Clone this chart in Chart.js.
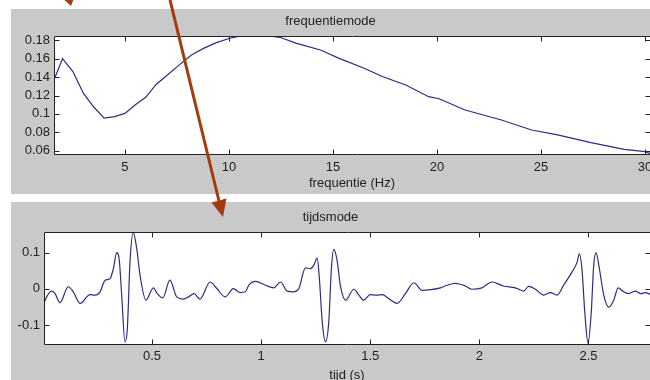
<!DOCTYPE html>
<html lang="nl">
<head>
<meta charset="UTF-8">
<title>frequentiemode / tijdsmode</title>
<style>
    body {
        margin: 0;
        background: #fff;
        overflow: hidden;
        width: 650px;
        height: 380px;
        position: relative;
    }
    .panel {
        position: absolute;
        left: 11px;
        width: 660px;
        background: #c9c9c9;
    }
    #topPanel { top: 9px; height: 185px; }
    #bottomPanel { top: 202px; height: 190px; }
    canvas { position: absolute; left: 0; top: 0; }
    #arrows { position: absolute; left: 0; top: 0; }
</style>
</head>
<body>
<div class="panel" id="topPanel"><canvas id="freqChart" width="660" height="185"></canvas></div>
<div class="panel" id="bottomPanel"><canvas id="timeChart" width="660" height="190"></canvas></div>
<svg id="arrows" width="650" height="380">
    <polygon points="60,-4 74,-2 71,6" fill="#a33b0e"/>
    <line x1="170" y1="0" x2="219" y2="201" stroke="#a33b0e" stroke-width="3"/>
    <polygon points="223,217 226.5,198.5 211.5,202.5" fill="#a33b0e"/>
</svg>

<script src="https://cdn.jsdelivr.net/npm/chart.js"></script>
<script>
    // frequentiemode (bovenste grafiek)
    const freqHz = [1.59, 2.0, 2.5, 3.0, 3.5, 4.0, 4.5, 5.0, 5.5, 6.0,
        6.5, 7.0, 7.6, 8.2, 8.8, 9.4, 10.0, 10.5, 11.0, 11.5,
        12.0, 12.45, 13.25, 14.4, 15.3, 16.5, 17.4, 18.5, 19.6, 20.1,
        21.35, 23.1, 24.55, 25.8, 27.4, 29.0, 30.0, 30.24];
    const freqMode = [0.137, 0.160, 0.146, 0.1225, 0.1075, 0.0955, 0.0970, 0.1005, 0.110, 0.118,
        0.132, 0.1415, 0.153, 0.164, 0.1715, 0.1775, 0.182, 0.1845, 0.1847, 0.1847,
        0.1845, 0.1833, 0.1767, 0.1695, 0.1604, 0.1496, 0.1404, 0.1314, 0.1187, 0.1165,
        0.1042, 0.0934, 0.0825, 0.0771, 0.0687, 0.0615, 0.0589, 0.0570];
    const freqTicks = [5, 10, 15, 20, 25, 30];
    const freqModeTicks = [0.06, 0.08, 0.1, 0.12, 0.14, 0.16, 0.18];

    // tijdsmode (onderste grafiek)
    const timeS = [0.005, 0.017, 0.04, 0.055, 0.078, 0.116, 0.139, 0.17, 0.216, 0.239,
        0.262, 0.285, 0.307, 0.323, 0.338, 0.35, 0.361, 0.376, 0.387, 0.399,
        0.414, 0.43, 0.445, 0.472, 0.506, 0.524, 0.549, 0.582, 0.613, 0.644,
        0.667, 0.692, 0.72, 0.766, 0.797, 0.835, 0.873, 0.903, 0.928, 0.943,
        0.974, 1.02, 1.058, 1.089, 1.119, 1.15, 1.173, 1.203, 1.226, 1.241,
        1.257, 1.267, 1.28, 1.295, 1.31, 1.322, 1.333, 1.348, 1.364, 1.387,
        1.425, 1.448, 1.47, 1.5, 1.53, 1.555, 1.585, 1.623, 1.661, 1.7,
        1.738, 1.776, 1.822, 1.852, 1.89, 1.936, 1.966, 2.012, 2.058, 2.11,
        2.165, 2.203, 2.226, 2.257, 2.295, 2.325, 2.356, 2.386, 2.425, 2.448,
        2.458, 2.47, 2.483, 2.498, 2.513, 2.524, 2.535, 2.55, 2.57, 2.593,
        2.616, 2.636, 2.661, 2.684, 2.715, 2.738, 2.76, 2.784];
    const timeMode = [-0.040, -0.022, -0.006, -0.012, -0.038, 0.006, -0.008, -0.040, -0.016, -0.017,
        -0.008, 0.024, 0.028, 0.056, 0.100, 0.079, -0.017, -0.146, -0.109, 0.074,
        0.155, 0.111, 0.038, -0.031, 0.003, -0.013, -0.025, 0.024, -0.022, -0.028,
        -0.022, -0.013, -0.028, 0.019, 0.001, -0.022, 0.001, -0.010, -0.008, 0.010,
        0.021, 0.010, 0.003, 0.019, -0.006, -0.008, 0.001, 0.058, 0.056, 0.065,
        0.085, 0.028, -0.091, -0.146, -0.091, 0.056, 0.109, 0.079, 0.006, -0.031,
        -0.001, -0.017, -0.031, -0.016, -0.017, -0.016, -0.027, -0.040, -0.013, 0.017,
        -0.004, -0.002, 0.003, 0.010, 0.015, 0.008, -0.001, 0.003, 0.019, 0.008,
        0.003, -0.006, 0.007, -0.001, -0.017, -0.010, -0.017, 0.010, 0.047, 0.074,
        0.097, 0.056, -0.063, -0.150, -0.063, 0.065, 0.100, 0.056, -0.017, -0.050,
        -0.031, 0.003, -0.008, -0.013, -0.006, -0.013, -0.010, -0.015];
    const timeTicks = [0.5, 1, 1.5, 2, 2.5];
    const timeModeTicks = [-0.1, 0, 0.1];

    Chart.defaults.font.family = "'Liberation Sans', Arial, sans-serif";
    Chart.defaults.font.size = 13;
    Chart.defaults.color = '#222';

    // witte assen met zwarte rand en tickjes naar binnen, zoals in MATLAB
    const matlabAxes = {
        id: 'matlabAxes',
        beforeDraw(chart) {
            const a = chart.chartArea;
            const ctx = chart.ctx;
            ctx.save();
            ctx.fillStyle = '#fff';
            ctx.fillRect(a.left, a.top, a.right - a.left, a.bottom - a.top);
            ctx.restore();
        },
        afterDraw(chart) {
            const a = chart.chartArea;
            const ctx = chart.ctx;
            const len = 5;
            const l = Math.round(a.left) + 0.5, r = Math.round(a.right) + 0.5;
            const t = Math.round(a.top) + 0.5, b = Math.round(a.bottom) + 0.5;
            ctx.save();
            ctx.strokeStyle = '#222';
            ctx.lineWidth = 1;
            ctx.beginPath();
            ctx.rect(l, t, r - l, b - t);
            chart.scales.x.ticks.forEach(tk => {
                const px = Math.round(chart.scales.x.getPixelForValue(tk.value)) + 0.5;
                ctx.moveTo(px, b); ctx.lineTo(px, b - len);
                ctx.moveTo(px, t); ctx.lineTo(px, t + len);
            });
            chart.scales.y.ticks.forEach(tk => {
                const py = Math.round(chart.scales.y.getPixelForValue(tk.value)) + 0.5;
                ctx.moveTo(l, py); ctx.lineTo(l + len, py);
                ctx.moveTo(r, py); ctx.lineTo(r - len, py);
            });
            ctx.stroke();
            ctx.restore();
        }
    };

    function makeChart(id, opts) {
        return new Chart(document.getElementById(id), {
            type: 'line',
            data: {
                datasets: [{
                    data: opts.xs.map((x, i) => ({x: x, y: opts.ys[i]})),
                    borderColor: '#2c2c86',
                    borderWidth: 1.2,
                    pointRadius: 0,
                    tension: opts.smooth ? 0.4 : 0,
                    cubicInterpolationMode: opts.smooth ? 'monotone' : 'default'
                }]
            },
            options: {
                responsive: false,
                animation: false,
                devicePixelRatio: 1,
                layout: {padding: {left: 0, right: 21, top: 0, bottom: 0}},
                plugins: {
                    legend: {display: false},
                    tooltip: {enabled: false},
                    title: {
                        display: true,
                        text: opts.title,
                        color: '#222',
                        font: {size: 13, weight: 'normal'},
                        padding: opts.titlePad
                    }
                },
                scales: {
                    x: {
                        type: 'linear',
                        min: opts.xMin,
                        max: opts.xMax,
                        grid: {display: false, drawTicks: false},
                        border: {display: false},
                        ticks: {padding: opts.xTickPad, autoSkip: false, maxRotation: 0,
                            callback: v => String(v)},
                        afterBuildTicks: s => { s.ticks = opts.xTicks.map(v => ({value: v})); },
                        afterFit: s => { s.height = opts.xHeight; },
                        title: {display: true, text: opts.xTitle, padding: {top: 0, bottom: opts.xTitlePad}}
                    },
                    y: {
                        min: opts.yMin,
                        max: opts.yMax,
                        grid: {display: false, drawTicks: false},
                        border: {display: false},
                        ticks: {padding: 4, callback: v => String(v)},
                        afterBuildTicks: s => { s.ticks = opts.yTicks.map(v => ({value: v})); },
                        afterFit: s => { s.width = opts.yWidth; }
                    }
                }
            },
            plugins: [matlabAxes]
        });
    }

    makeChart('freqChart', {
        xs: freqHz, ys: freqMode, smooth: false,
        title: 'frequentiemode', titlePad: {top: 4.2, bottom: 7.2},
        xMin: 1.59, xMax: 30.24, xTicks: freqTicks, xTickPad: 6, xHeight: 40,
        xTitle: 'frequentie (Hz)', xTitlePad: 3.2,
        yMin: 0.0564, yMax: 0.1847, yTicks: freqModeTicks, yWidth: 43
    });

    makeChart('timeChart', {
        xs: timeS, ys: timeMode, smooth: true,
        title: 'tijdsmode', titlePad: {top: 7.9, bottom: 6.5},
        xMin: 0.005, xMax: 2.782, xTicks: timeTicks, xTickPad: 5, xHeight: 48,
        xTitle: 'tijd (s)', xTitlePad: 9.2,
        yMin: -0.152, yMax: 0.157, yTicks: timeModeTicks, yWidth: 33
    });
</script>
</body>
</html>
